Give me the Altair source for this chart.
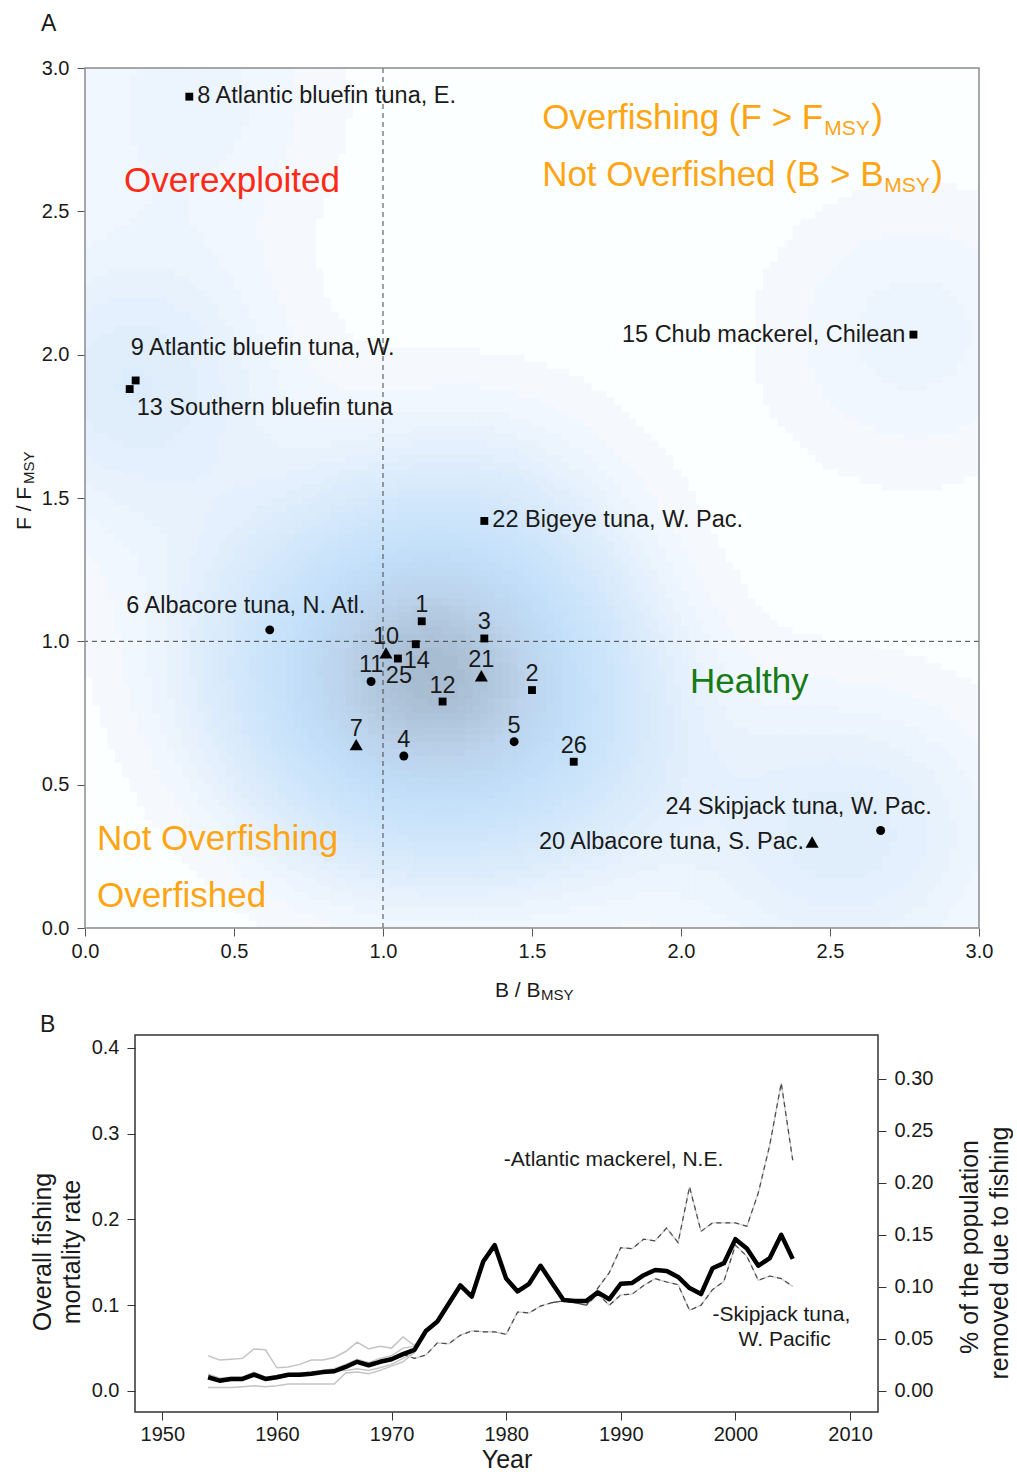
import numpy as np
import pandas as pd
import altair as alt

FONT = "Liberation Sans"
INK = "#1a1a1a"

# ---------------- Panel A: stock status ----------------
stock_id = [8, 9, 13, 15, 22, 6, 1, 3, 10, 14, 25, 11, 21, 2, 12, 5, 7, 4, 26, 24, 20]
stock_name = ["Atlantic bluefin tuna, E.", "Atlantic bluefin tuna, W.", "Southern bluefin tuna",
              "Chub mackerel, Chilean", "Bigeye tuna, W. Pac.", "Albacore tuna, N. Atl.",
              "", "", "", "", "", "", "", "", "", "", "", "", "",
              "Skipjack tuna, W. Pac.", "Albacore tuna, S. Pac."]
b_ratio = [0.35, 0.17, 0.15, 2.78, 1.34, 0.62, 1.13, 1.34, 1.01, 1.11, 1.05, 0.96, 1.33,
           1.50, 1.20, 1.44, 0.91, 1.07, 1.64, 2.67, 2.44]
f_ratio = [2.90, 1.91, 1.88, 2.07, 1.42, 1.04, 1.07, 1.01, 0.96, 0.99, 0.94, 0.86, 0.88,
           0.83, 0.79, 0.65, 0.64, 0.60, 0.58, 0.34, 0.30]
marker = ["square", "square", "square", "square", "square", "circle", "square", "square",
          "triangle-up", "square", "square", "circle", "triangle-up", "square", "square",
          "circle", "triangle-up", "circle", "square", "circle", "triangle-up"]

# ---------------- Panel B: fishing mortality through time ----------------
years = list(range(1954, 2006))
overall_f = [0.016, 0.012, 0.014, 0.014, 0.019, 0.014, 0.016, 0.019, 0.019, 0.020,
             0.022, 0.023, 0.028, 0.034, 0.030, 0.034, 0.037, 0.043, 0.048, 0.070,
             0.081, 0.102, 0.123, 0.110, 0.151, 0.170, 0.131, 0.116, 0.125, 0.146,
             0.126, 0.106, 0.105, 0.105, 0.115, 0.107, 0.125, 0.126, 0.135, 0.141,
             0.140, 0.133, 0.120, 0.113, 0.143, 0.149, 0.177, 0.166, 0.146, 0.155,
             0.182, 0.154]

early_years = list(range(1954, 1974))
stock_f_hi = [0.041, 0.036, 0.037, 0.038, 0.049, 0.048, 0.027, 0.028, 0.031, 0.036,
              0.036, 0.039, 0.046, 0.057, 0.049, 0.052, 0.050, 0.063, 0.053, 0.068]
stock_f_lo = [0.004, 0.004, 0.004, 0.005, 0.006, 0.005, 0.006, 0.008, 0.008, 0.008,
              0.008, 0.008, 0.021, 0.022, 0.020, 0.024, 0.029, 0.034, 0.045, 0.068]
stock_f_m1 = [0.018, 0.013, 0.015, 0.015, 0.020, 0.015, 0.017, 0.019, 0.020, 0.021,
              0.023, 0.024, 0.024, 0.026, 0.024, 0.027, 0.031, 0.038, 0.046, 0.066]
stock_f_m2 = [0.020, 0.015, 0.016, 0.016, 0.022, 0.016, 0.018, 0.020, 0.021, 0.022,
              0.024, 0.026, 0.031, 0.037, 0.033, 0.038, 0.041, 0.050, 0.052, 0.072]

skipjack_years = list(range(1971, 2006))
skipjack_f = [0.043, 0.038, 0.042, 0.056, 0.055, 0.065, 0.070, 0.069, 0.069, 0.066,
              0.092, 0.091, 0.099, 0.103, 0.105, 0.103, 0.100, 0.113, 0.100, 0.112,
              0.113, 0.123, 0.131, 0.127, 0.124, 0.094, 0.100, 0.118, 0.128, 0.170,
              0.157, 0.129, 0.134, 0.131, 0.122]

mackerel_years = list(range(1984, 2006))
mackerel_f = [0.103, 0.105, 0.103, 0.100, 0.120, 0.138, 0.167, 0.166, 0.177, 0.175,
              0.190, 0.173, 0.238, 0.186, 0.196, 0.196, 0.196, 0.192, 0.231, 0.287,
              0.359, 0.269]

left_ticks = [0.0, 0.1, 0.2, 0.3, 0.4]
right_ticks = [0.0, 0.05, 0.10, 0.15, 0.20, 0.25, 0.30]
year_ticks = [1950, 1960, 1970, 1980, 1990, 2000, 2010]

# =====================================================================
# Panel A
# =====================================================================
WA, HA = 894, 860
sx_a = alt.Scale(domain=[0, 3], nice=False, zero=False)
sy_a = alt.Scale(domain=[0, 3], nice=False, zero=False)
ax_a = alt.Axis(values=[0, 0.5, 1, 1.5, 2, 2.5, 3], format=".1f", title=None,
                tickSize=8, labelPadding=5, labelFontSize=20, tickColor="#555555",
                labelColor=INK, domain=False, grid=False, labelFlush=False)
ay_a = alt.Axis(values=[0, 0.5, 1, 1.5, 2, 2.5, 3], format=".1f", title=None,
                tickSize=8, labelPadding=8, labelFontSize=20, tickColor="#555555",
                labelColor=INK, domain=False, grid=False, labelFlush=False)


def xa(field):
    return alt.X(field, type="quantitative", scale=sx_a, axis=ax_a)


def ya(field):
    return alt.Y(field, type="quantitative", scale=sy_a, axis=ay_a)


stocks = pd.DataFrame({"id": stock_id, "name": stock_name, "b": b_ratio,
                       "f": f_ratio, "marker": marker})
stocks["label"] = [f"{i} {n}" if n else str(i) for i, n in zip(stock_id, stock_name)]

# kernel density of the stock positions, drawn as a fine grid of cells
n_cells = 120
edges = np.linspace(0.0, 3.0, n_cells + 1)
mid = (edges[:-1] + edges[1:]) / 2
BX, FY = np.meshgrid(mid, mid)
bw = 0.34
dens = np.zeros_like(BX)
for b, f in zip(b_ratio, f_ratio):
    dens += np.exp(-((BX - b) ** 2 + (FY - f) ** 2) / (2 * bw ** 2))
dens /= dens.max()
dens = np.floor(dens * 36) / 36
step = edges[1] - edges[0]
grid = pd.DataFrame({
    "b0": (BX - step / 2).ravel(), "b1": (BX + step / 2 + 0.004).ravel(),
    "f0": (FY - step / 2).ravel(), "f1": (FY + step / 2 + 0.004).ravel(),
    "d": dens.ravel(),
})
density = alt.Chart(grid).mark_rect(clip=True, strokeWidth=0).encode(
    x=xa("b0"), x2="b1", y=ya("f0"), y2="f1",
    color=alt.Color("d:Q", legend=None, scale=alt.Scale(
        domain=[0, 0.03, 0.1, 0.2, 0.35, 0.55, 0.75, 0.9, 1.0],
        range=["#ffffff", "#f5f9fe", "#e9f3fd", "#dcecfc", "#cde5fb", "#c2def8",
               "#bcd4ec", "#b0c6dc", "#a6bace"])),
)

one = alt.Data(values=[{}])
vref = alt.Chart(one).mark_rule(color="#444444", strokeDash=[5, 4], strokeWidth=1).encode(
    x=alt.X(datum=1.0, scale=sx_a, axis=ax_a))
href = alt.Chart(one).mark_rule(color="#444444", strokeDash=[5, 4], strokeWidth=1).encode(
    y=alt.Y(datum=1.0, scale=sy_a, axis=ay_a))

# one point layer per symbol so each symbol gets its own size
symbol_size = {"square": 62, "circle": 80, "triangle-up": 170}
point_layers = [
    alt.Chart(stocks[stocks["marker"] == shp]).mark_point(
        shape=shp, size=sz, filled=True, color="black", opacity=1).encode(
        x=xa("b"), y=ya("f"))
    for shp, sz in symbol_size.items()
]

# label placement: (align, dx, dy)
placements = {
    "above": ("center", 0, -16),
    "below": ("center", 1, 17),
    "right": ("left", 8, -1),
    "left": ("right", -8, 0),
    "upper_left": ("left", -5, -32),
    "lower_right": ("left", 7, 19),
    "upper_far": ("center", -24, -24),
    "upper_wide": ("center", -82, -24),
}
place_of = {8: "right", 9: "upper_left", 13: "lower_right", 15: "left", 22: "right",
            6: "upper_far", 24: "upper_wide", 20: "left", 14: "below", 25: "below"}
stocks["place"] = [place_of.get(i, "above") for i in stock_id]

label_layers = []
for key, (align, dx, dy) in placements.items():
    sub = stocks[stocks["place"] == key]
    if sub.empty:
        continue
    label_layers.append(
        alt.Chart(sub).mark_text(align=align, baseline="middle", dx=dx, dy=dy,
                                 font=FONT, fontSize=23.5, color=INK)
        .encode(x=xa("b"), y=ya("f"), text="label:N"))


def note(text, b, f, color, size=35, dx=0, dy=0, align="left"):
    return alt.Chart(one).mark_text(align=align, baseline="alphabetic", font=FONT,
                                    fontSize=size, color=color, dx=dx, dy=dy).encode(
        x=alt.X(datum=b, scale=sx_a, axis=ax_a), y=alt.Y(datum=f, scale=sy_a, axis=ay_a),
        text=alt.value(text))


RED, ORANGE, GREEN = "#ff2a16", "#ffa514", "#167a16"
quadrants = [
    note("Overexploited", 0.131, 2.567, RED),
    note("Overfishing (F > F", 1.534, 2.787, ORANGE),
    note("MSY", 1.534, 2.787, ORANGE, size=21, dx=282, dy=6),
    note(")", 1.534, 2.787, ORANGE, dx=329),
    note("Not Overfished (B > B", 1.534, 2.588, ORANGE),
    note("MSY", 1.534, 2.588, ORANGE, size=21, dx=342, dy=6),
    note(")", 1.534, 2.588, ORANGE, dx=389),
    note("Healthy", 2.030, 0.820, GREEN),
    note("Not Overfishing", 0.040, 0.272, ORANGE),
    note("Overfished", 0.040, 0.073, ORANGE),
]


def px_text(text, x, y, size, angle=0, align="left", baseline="alphabetic", color=INK):
    return alt.Chart(one).mark_text(align=align, baseline=baseline, font=FONT,
                                    fontSize=size, angle=angle, color=color).encode(
        x=alt.value(x), y=alt.value(y), text=alt.value(text))


frame_a = alt.Chart(one).mark_rect(fillOpacity=0, stroke="#8a8a8a", strokeWidth=1.5).encode(
    x=alt.value(0), x2=alt.value(WA), y=alt.value(0), y2=alt.value(HA))

titles_a = [
    px_text("A", -44, -37, 23),
    px_text("B / B", 410, 929, 21),
    px_text("MSY", 456, 932, 15),
    px_text("F / F", -54, 462, 21, angle=270),
    px_text("MSY", -51, 416, 15, angle=270),
]

panel_a = alt.layer(density, vref, href, *point_layers, *label_layers, *quadrants,
                    frame_a, *titles_a).properties(width=WA, height=HA)

# =====================================================================
# Panel B
# =====================================================================
WB, HB = 793, 377
sx_b = alt.Scale(domain=[1947.62, 2012.44], range=[50, WB], nice=False, zero=False)
sy_b = alt.Scale(domain=[-0.0245, 0.415], nice=False, zero=False)
ax_b = alt.Axis(values=year_ticks, format="d", title=None, tickSize=8, labelPadding=4,
                labelFontSize=20, labelColor=INK, tickColor="#333333", domain=False,
                grid=False, labelFlush=False)
ay_b = alt.Axis(values=left_ticks, format=".1f", title=None, tickSize=8, labelPadding=8,
                labelFontSize=20, labelColor=INK, tickColor="#333333", domain=False,
                grid=False, orient="left", offset=-50, labelFlush=False)


def xb(field):
    return alt.X(field, type="quantitative", scale=sx_b, axis=ax_b)


def yb(field):
    return alt.Y(field, type="quantitative", scale=sy_b, axis=ay_b)


early = pd.concat([
    pd.DataFrame({"year": early_years, "value": v, "stock": s})
    for s, v in [("hi", stock_f_hi), ("lo", stock_f_lo), ("m1", stock_f_m1), ("m2", stock_f_m2)]
])
named = pd.concat([
    pd.DataFrame({"year": skipjack_years, "value": skipjack_f, "stock": "skipjack"}),
    pd.DataFrame({"year": mackerel_years, "value": mackerel_f, "stock": "mackerel"}),
])
overall = pd.DataFrame({"year": years, "value": overall_f})

gray_lines = alt.Chart(early).mark_line(color="#c4c4c4", strokeWidth=1.5).encode(
    x=xb("year"), y=yb("value"), detail="stock:N")
named_under = alt.Chart(named).mark_line(color="#cfcfcf", strokeWidth=1.4).encode(
    x=xb("year"), y=yb("value"), detail="stock:N")
named_dash = alt.Chart(named).mark_line(color="#4a4a4a", strokeWidth=1.2,
                                        strokeDash=[5, 4]).encode(
    x=xb("year"), y=yb("value"), detail="stock:N")
overall_line = alt.Chart(overall).mark_line(color="black", strokeWidth=4.5,
                                            strokeJoin="round").encode(
    x=xb("year"), y=yb("value"))


def note_b(text, year, value, align="left"):
    return alt.Chart(one).mark_text(align=align, baseline="middle", font=FONT,
                                    fontSize=21, color=INK).encode(
        x=alt.X(datum=year, scale=sx_b, axis=ax_b), y=alt.Y(datum=value, scale=sy_b, axis=ay_b),
        text=alt.value(text))


notes_b = [
    note_b("-Atlantic mackerel, N.E.", 1979.8, 0.269),
    note_b("-Skipjack tuna,", 1998.0, 0.0886),
    note_b("W. Pacific", 2004.3, 0.0595, align="center"),
]

frame_b = alt.Chart(one).mark_rect(fillOpacity=0, stroke="#333333", strokeWidth=1.5).encode(
    x=alt.value(50), x2=alt.value(WB), y=alt.value(0), y2=alt.value(HB))

titles_b = [
    px_text("B", -45, -3, 23),
    px_text("Overall fishing", -34, 217, 25, angle=270, align="center"),
    px_text("mortality rate", -5, 217, 25, angle=270, align="center"),
    px_text("% of the population", 893, 212, 25, angle=270, align="center"),
    px_text("removed due to fishing", 923, 218, 25, angle=270, align="center"),
    px_text("Year", 422, 433, 25, align="center"),
]

left_part = alt.layer(gray_lines, named_under, named_dash, overall_line, *notes_b,
                      frame_b, *titles_b)

# secondary axis: share of the population removed by fishing
share_axis = alt.Chart(pd.DataFrame({"year": [1980], "share": [0.0]})).mark_point(
    opacity=0).encode(
    x=xb("year"),
    y=alt.Y("share:Q", scale=alt.Scale(domain=[-0.0202, 0.3423], nice=False, zero=False),
            axis=alt.Axis(values=right_ticks, format=".2f", title=None, orient="right",
                          tickSize=8, labelPadding=8, labelFontSize=20, labelColor=INK,
                          tickColor="#333333", domain=False, grid=False, labelFlush=False)),
)

panel_b = alt.layer(left_part, share_axis).resolve_scale(y="independent").properties(
    width=WB, height=HB)

chart = alt.vconcat(panel_a, panel_b, spacing=11).properties(
    padding={"left": 14, "top": 13, "right": 0, "bottom": 0}
).configure_view(stroke=None).configure_axis(labelFont=FONT, titleFont=FONT)

chart.save("out.html", embed_options={"renderer": "svg", "actions": False})
